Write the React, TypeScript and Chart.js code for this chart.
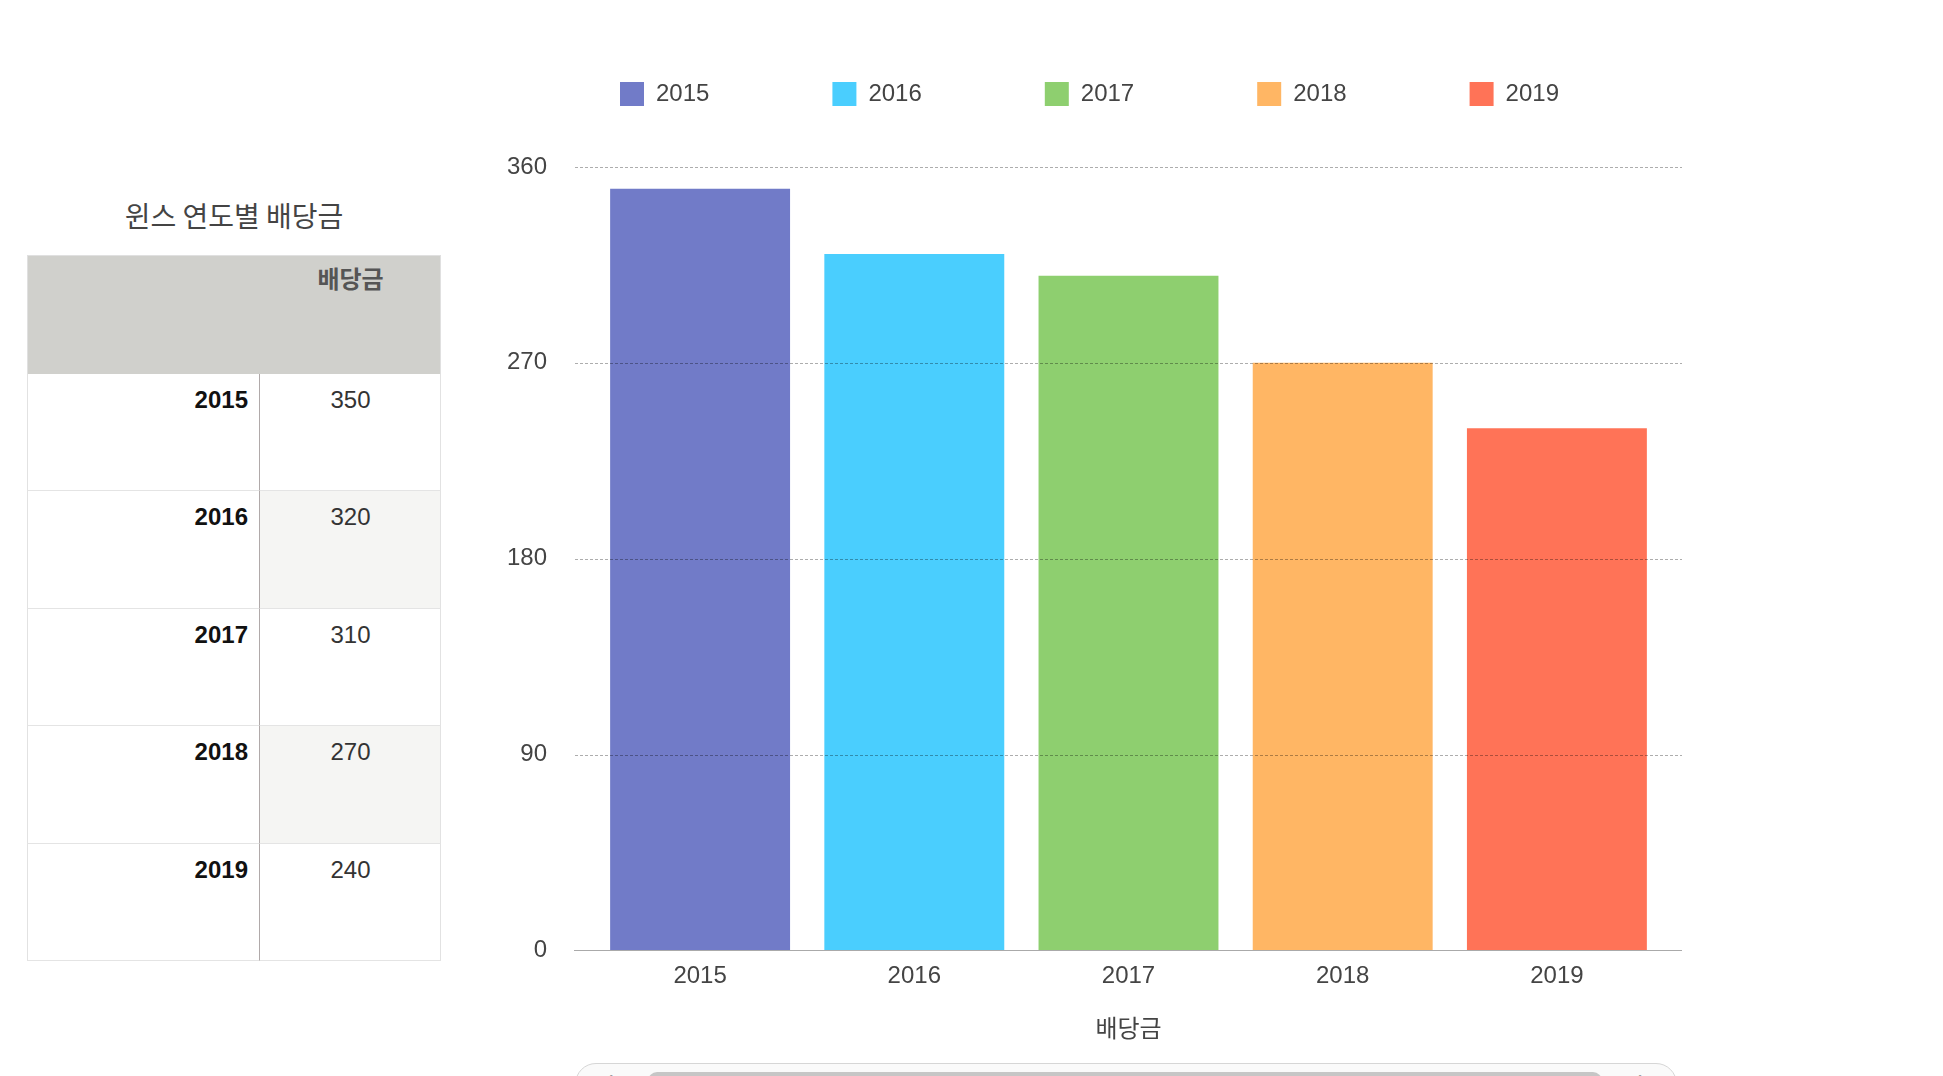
import React, { useEffect, useRef } from "react";
import { Chart, registerables } from "chart.js";

Chart.register(...registerables);

// ---- data ----
const years = ["2015", "2016", "2017", "2018", "2019"];
const dividends = [350, 320, 310, 270, 240];
const barColors = ["#717bc8", "#4acefe", "#8ecf6f", "#ffb664", "#ff7357"];
const yTickValues = [0, 90, 180, 270, 360];
const tableTitle = "윈스 연도별 배당금";
const seriesName = "배당금";

const FONT = '"Liberation Sans", "Noto Sans CJK KR", Arial, sans-serif';
const KFONT = '"Noto Sans CJK KR", "Liberation Sans", sans-serif';

const gridPlugin = {
  id: "extendedGrid",
  afterDatasetsDraw(chart: any) {
    const y = chart.scales.y;
    const { left, right } = chart.chartArea;
    const ctx = chart.ctx;
    ctx.save();
    ctx.lineWidth = 1;
    ctx.setLineDash([3, 2]);
    ctx.strokeStyle = "rgba(0,0,0,0.32)";
    y.ticks.forEach((t: any) => {
      if (t.value === 0) return;
      const py = Math.round(y.getPixelForValue(t.value)) + 0.5;
      ctx.beginPath();
      ctx.moveTo(left - 18, py);
      ctx.lineTo(right + 18, py);
      ctx.stroke();
    });
    ctx.setLineDash([]);
    ctx.strokeStyle = "#aaaaaa";
    const p0 = Math.round(y.getPixelForValue(0)) + 0.5;
    ctx.beginPath();
    ctx.moveTo(left - 19, p0);
    ctx.lineTo(right + 18, p0);
    ctx.stroke();
    ctx.restore();
  },
};

// keeps the wide-spaced legend on one row and leaves room under it
const legendSpacer = {
  id: "legendSpacer",
  beforeLayout(chart: any) {
    const lg = chart.legend;
    if (lg && !lg.__patched) {
      const origFit = lg.fit;
      lg.fit = function () {
        const mw = this.maxWidth;
        this.maxWidth = mw + 200;
        origFit.call(this);
        this.maxWidth = mw;
        this.width = mw;
        this.height = 208;
      };
      const origDraw = lg.draw;
      lg.draw = function () {
        const l = this.left;
        const r = this.right;
        this.left = l - 50;
        this.right = r + 60;
        origDraw.call(this);
        this.left = l;
        this.right = r;
      };
      lg.__patched = true;
    }
  },
};

function BarChart() {
  const ref = useRef<HTMLCanvasElement | null>(null);
  useEffect(() => {
    if (!ref.current) return;
    const datasets = years.map((yr, i) => ({
      label: yr,
      data: years.map((_, j) => (j === i ? dividends[i] : null)),
      backgroundColor: barColors[i],
      borderWidth: 0,
    }));
    const chart = new Chart(ref.current, {
      type: "bar",
      data: { labels: years, datasets },
      options: {
        animation: false,
        responsive: true,
        maintainAspectRatio: false,
        layout: { padding: { left: 45, right: 46, top: 0, bottom: 0 } },
        datasets: {
          bar: { grouped: false, categoryPercentage: 1, barPercentage: 0.84 },
        },
        plugins: {
          legend: {
            display: true,
            position: "top",
            labels: {
              boxWidth: 24,
              boxHeight: 24,
              padding: 123,
              color: "#444444",
              font: { family: FONT, size: 24 },
            },
          },
          tooltip: { enabled: false },
        },
        scales: {
          x: {
            grid: { display: false, drawTicks: false },
            border: { display: false },
            ticks: {
              color: "#444444",
              padding: 12,
              font: { family: FONT, size: 24 },
            },
            title: {
              display: true,
              text: seriesName,
              color: "#444444",
              font: { family: KFONT, size: 24 },
              padding: { top: 10, bottom: 0 },
            },
          },
          y: {
            min: 0,
            max: 360,
            afterBuildTicks: (s: any) => {
              s.ticks = yTickValues.map((v) => ({ value: v }));
            },
            afterFit: (s: any) => {
              s.width = 88;
            },
            grid: { display: false, drawTicks: false },
            border: { display: false },
            ticks: {
              color: "#444444",
              padding: 46,
              font: { family: FONT, size: 24 },
            },
          },
        },
      } as any,
      plugins: [gridPlugin, legendSpacer],
    });
    return () => chart.destroy();
  }, []);
  return (
    <div style={{ position: "absolute", left: 460, top: -41, width: 1250, height: 1083 }}>
      <canvas ref={ref} />
    </div>
  );
}

function DataTable() {
  const left = 27;
  const top = 255;
  const col1 = 233;
  const col2 = 181;
  const headerH = 119;
  const rowH = 117.4;
  const width = col1 + col2;
  const bodyTop = top + headerH;
  return (
    <>
      <div
        style={{
          position: "absolute",
          left,
          width,
          top: 198,
          lineHeight: "34px",
          textAlign: "center",
          fontFamily: KFONT,
          fontSize: 28,
          color: "#444",
        }}
      >
        {tableTitle}
      </div>
      <div
        style={{
          position: "absolute",
          left,
          top,
          width: width - 2,
          height: headerH - 1,
          background: "#d0d0cc",
          border: "1px solid #e0e0e0",
          borderBottom: "1px solid #b5aeae",
        }}
      />
      <div
        style={{
          position: "absolute",
          left: left + col1,
          width: col2,
          top: top + 8,
          lineHeight: "30px",
          textAlign: "center",
          fontFamily: KFONT,
          fontWeight: "bold",
          fontSize: 24,
          color: "#555",
        }}
      >
        {seriesName}
      </div>
      {years.map((yr, i) => {
        const rt = bodyTop + i * rowH;
        const shaded = i % 2 === 1;
        return (
          <React.Fragment key={yr}>
            <div
              style={{
                position: "absolute",
                left,
                top: rt,
                width: col1,
                height: rowH,
                boxSizing: "border-box",
                borderLeft: "1px solid #e2e2e2",
                borderBottom: "1px solid #e4e4e4",
                borderRight: "1px solid #b0a9a9",
                background: "#fff",
              }}
            />
            <div
              style={{
                position: "absolute",
                left: left + col1,
                top: rt,
                width: col2,
                height: rowH,
                boxSizing: "border-box",
                borderRight: "1px solid #e2e2e2",
                borderBottom: "1px solid #e4e4e4",
                background: shaded ? "#f5f5f3" : "#fff",
              }}
            />
            <div
              style={{
                position: "absolute",
                left,
                top: rt + 12,
                width: col1 - 12,
                lineHeight: "28px",
                textAlign: "right",
                fontFamily: FONT,
                fontWeight: "bold",
                fontSize: 24,
                color: "#111",
              }}
            >
              {yr}
            </div>
            <div
              style={{
                position: "absolute",
                left: left + col1,
                top: rt + 12,
                width: col2,
                lineHeight: "28px",
                textAlign: "center",
                fontFamily: FONT,
                fontSize: 24,
                color: "#333",
              }}
            >
              {dividends[i]}
            </div>
          </React.Fragment>
        );
      })}
    </>
  );
}

function ScrollBar() {
  return (
    <>
      <div
        style={{
          position: "absolute",
          left: 575,
          top: 1063,
          width: 1100,
          height: 40,
          border: "1px solid #d6d6d6",
          borderRadius: 24,
          background: "#fafafa",
        }}
      />
      <div
        style={{
          position: "absolute",
          left: 648,
          top: 1072,
          width: 954,
          height: 30,
          borderRadius: 9,
          background: "#c6c6c6",
        }}
      />
      <div style={{ position: "absolute", left: 606, top: 1066, fontFamily: FONT, fontSize: 22, color: "#888" }}>‹</div>
      <div style={{ position: "absolute", left: 1638, top: 1066, fontFamily: FONT, fontSize: 22, color: "#888" }}>›</div>
    </>
  );
}

export default function App() {
  return (
    <div
      style={{
        position: "absolute",
        left: 0,
        top: 0,
        width: 1943,
        height: 1076,
        overflow: "hidden",
        background: "#ffffff",
      }}
    >
      <DataTable />
      <BarChart />
      <ScrollBar />
    </div>
  );
}
